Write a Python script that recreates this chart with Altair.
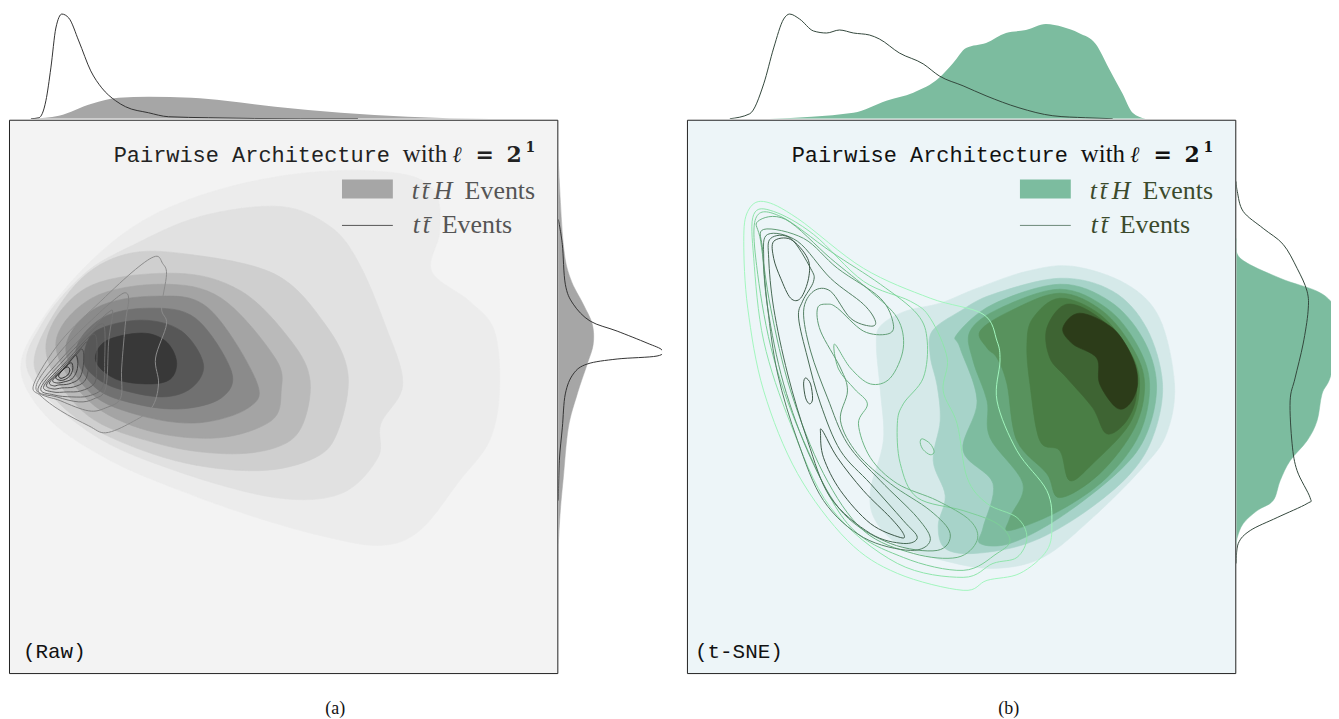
import altair as alt
import pandas as pd

# ---------------- data (plot-area units: x 0..550 left→right, y 0..555 top→bottom) -------------
# Panel (a) Raw: ttH filled density levels, outer -> inner
RAW_TTH_LEVELS = [
    [(12,252),(32,202),(82,142),(142,97),(222,67),(312,52),(392,54),(427,72),(432,112),(424,152),(462,182),(487,212),(492,272),(482,322),(452,362),(412,412),(372,427),(312,417),(242,397),(172,372),(102,342),(42,302)],
    [(20,255),(33,205),(75,155),(122,127),(192,97),(272,87),(322,107),(350,142),(377,205),(395,265),(373,305),(370,339),(333,375),(267,379),(167,352),(83,315)],
    [(27,232),(67,165),(117,135),(180,135),(267,155),(317,205),(340,255),(330,312),(307,339),(250,352),(167,342),(83,309),(37,269)],
    [(37,229),(77,169),(167,154),(233,172),(283,222),(302,262),(293,309),(267,329),(217,335),(150,325),(77,295)],
    [(47,225),(83,179),(153,165),(213,179),(267,239),(273,272),(263,302),(210,319),(140,312),(80,282)],
    [(57,229),(87,189),(147,177),(200,189),(248,262),(240,289),(190,304),(133,297),(83,275)],
    [(67,232),(93,199),(140,189),(187,199),(223,252),(213,279),(173,290),(127,285),(87,269)],
    [(75,239),(87,212),(133,201),(173,212),(195,245),(183,269),(153,278),(107,269),(83,255)],
    [(87,242),(97,222),(133,214),(157,222),(168,242),(162,260),(140,265),(107,260)],
]
RAW_TTH_COLORS = ["#ececec", "#e1e1e1", "#cfcfcf", "#bababa", "#a4a4a4", "#8b8b8b", "#717171", "#575757", "#383838"]

# Panel (a) Raw: tt line density levels, outer -> inner
RAW_TT_LEVELS = [
    [(25,265),(52,222),(92,182),(127,150),(147,137),(154,144),(158,155),(153,189),(158,205),(147,239),(150,265),(143,289),(122,304),(97,314),(80,307),(52,292),(32,277)],
    [(27,269),(52,232),(87,197),(110,177),(118,174),(120,182),(117,202),(113,249),(112,279),(97,289),(80,292),(52,282)],
    [(29,270),(55,237),(85,207),(100,193),(104,194),(100,222),(97,269),(85,280),(70,283),(48,278)],
    [(32,269),(55,241),(80,215),(92,205),(96,210),(96,240),(94,268),(80,277),(63,278),(45,276)],
    [(35,267),(57,243),(76,222),(85,215),(88,222),(88,245),(86,264),(72,272),(58,273),(44,273)],
    [(38,265),(56,246),(72,229),(78,223),(81,230),(80,248),(76,262),(65,268),(53,269),(44,270)],
    [(41,263),(56,248),(68,235),(73,230),(75,236),(74,250),(70,260),(60,265),(50,266),(45,267)],
    [(44,261),(55,250),(63,240),(67,236),(69,242),(68,252),(63,260),(55,263),(48,264)],
    [(47,258),(55,250),(60,245),(63,244),(64,250),(61,257),(55,261),(50,261)],
    [(50,256),(55,250),(59,248),(61,251),(59,256),(54,259),(51,259)],
]
RAW_TT_COLORS = ["#8c8c8c", "#828282", "#777777", "#6c6c6c", "#616161", "#565656", "#4b4b4b",
                 "#404040", "#353535", "#2a2a2a"]

# Panel (b) t-SNE: ttH filled density levels, outer -> inner
TSNE_TTH_LEVELS = [
    [(194,207),(219,192),(254,184),(291,169),(341,152),(387,147),(441,165),(474,199),(489,265),(481,315),(457,349),(407,399),(357,439),(307,450),(257,442),(214,427),(189,402),(184,372),(197,322),(194,272),(190,227)],
    [(246,212),(274,192),(307,175),(374,159),(427,172),(461,209),(477,265),(467,319),(441,359),(391,399),(341,425),(289,435),(259,430),(252,407),(259,377),(247,342),(254,302),(251,267),(244,237)],
    [(271,215),(307,185),(374,165),(424,182),(457,219),(471,265),(461,315),(434,352),(374,399),(324,425),(294,425),(297,409),(307,365),(277,332),(291,282),(274,229)],
    [(284,212),(314,189),(374,170),(421,189),(451,225),(464,265),(454,315),(421,359),(374,392),(324,412),(324,399),(337,365),(304,319),(301,282),(287,242)],
    [(294,212),(324,192),(374,174),(417,192),(447,229),(459,265),(449,309),(414,355),(374,379),(361,355),(331,322),(321,265),(311,239),(301,229)],
    [(347,199),(374,179),(414,195),(444,232),(454,265),(444,305),(407,345),(384,362),(374,332),(354,322),(344,265),(341,225)],
    [(361,209),(381,185),(414,199),(441,232),(451,272),(441,302),(421,315),(407,289),(381,259),(364,239)],
    [(377,209),(394,194),(427,209),(447,239),(452,265),(444,285),(431,289),(414,265),(411,239),(387,225)],
]
TSNE_TTH_COLORS = ["#d5e9e9", "#a7d3c9", "#7ebca0", "#67a77c", "#58925d", "#4a7e45", "#3e6433", "#2c3c19"]

# Panel (b) t-SNE: tt line density levels, outer -> inner
TSNE_TT_LEVELS = [
    [(61,92),(77,82),(111,99),(177,149),(244,179),(297,195),(311,222),(314,242),(311,282),(331,332),(361,372),(366,405),(361,432),(334,455),(301,462),(277,472),(211,455),(161,422),(111,355),(77,272),(61,189),(57,122)],
    [(67,95),(87,92),(127,115),(177,162),(224,182),(244,199),(261,239),(257,272),(271,305),(281,359),(301,385),(331,399),(341,419),(331,439),(307,445),(277,459),(211,445),(144,389),(104,305),(77,222),(67,139)],
    [(69,99),(94,97),(144,132),(194,165),(231,195),(241,222),(237,259),(217,285),(211,305),(214,345),(231,379),(277,392),(311,405),(324,422),(311,435),(277,452),(217,439),(161,405),(117,322),(87,239),(71,155)],
    [(71,102),(99,100),(144,139),(184,172),(211,199),(217,229),(204,259),(184,265),(164,249),(148,225),(152,250),(168,270),(181,285),(172,305),(184,339),(211,365),(251,382),(284,402),(291,422),(271,439),(227,435),(177,412),(137,355),(104,272),(84,189),(74,122)],
    [(77,110),(117,119),(151,149),(194,179),(207,205),(201,215),(177,212),(151,189),(141,185),(131,189),(134,212),(154,249),(161,272),(154,302),(171,335),(204,365),(244,392),(264,415),(251,432),(204,425),(157,395),(124,339),(97,265),(81,189),(76,132)],
    [(81,115),(111,122),(144,159),(177,185),(189,202),(184,207),(164,199),(144,172),(127,172),(117,192),(124,232),(141,279),(161,325),(194,362),(231,399),(244,422),(224,432),(177,419),(137,382),(111,322),(91,255),(81,189),(77,139)],
    [(84,119),(104,119),(124,149),(127,162),(116,182),(112,199),(121,239),(134,285),(154,332),(184,365),(217,402),(231,419),(217,425),(184,415),(144,379),(121,322),(101,255),(87,189),(82,139)],
    [(87,122),(104,120),(121,139),(122,159),(114,179),(104,179),(94,159),(87,139)],
    [(136,312),(151,339),(177,372),(204,399),(217,415),(214,419),(184,405),(154,372),(137,339),(134,315)],
    [(119,259),(124,265),(126,280),(123,285),(119,279),(117,265)],
    [(236,320),(244,325),(248,333),(244,336),(237,331),(234,324)],
]
TSNE_TT_COLORS = ["#a2f6be", "#8fe5ab", "#7ccf98", "#6cb585", "#609c74", "#537f63", "#476b55",
                  "#3b5646", "#3b5646", "#3b5646", "#74c08e"]

# Marginals: top (x position, height), right (y position, width)
RAW_TOP_TTH_X = [23, 50, 83, 110, 140, 183, 217, 267, 333, 400, 483, 513]
RAW_TOP_TTH_H = [0, 3, 15, 21, 22, 21, 18, 12, 6, 2, 0, 0]
RAW_TOP_TT_X = [22, 30, 37, 42, 47, 53, 60, 70, 82, 93, 107, 117, 140, 160, 200, 292, 350]
RAW_TOP_TT_H = [0, 1, 18, 51, 91, 105, 101, 78, 48, 31, 18, 12, 6, 2, 1, 0, 0]
RAW_RIGHT_TTH_Y = [42, 125, 159, 185, 205, 225, 245, 275, 309, 359, 392, 425]
RAW_RIGHT_TTH_W = [0, 5, 12, 25, 34, 35, 29, 19, 10, 5, 2, 0]
RAW_RIGHT_TT_Y = [100, 125, 165, 185, 202, 212, 224, 231, 237, 240, 245, 255, 275, 309, 342, 382]
RAW_RIGHT_TT_W = [0, 4, 7, 15, 32, 59, 89, 104, 99, 59, 29, 15, 7, 4, 1, 0]

TSNE_TOP_TT_X = [43, 63, 77, 87, 97, 103, 113, 127, 140, 153, 167, 183, 193, 213, 237, 253, 277, 300, 333, 367, 400, 427]
TSNE_TOP_TT_H = [0, 5, 35, 71, 100, 105, 100, 88, 86, 89, 86, 84, 80, 66, 55, 43, 33, 23, 11, 3, 1, 0]
TSNE_TOP_TTH_X = [83, 167, 200, 227, 253, 267, 280, 300, 320, 340, 360, 377, 393, 410, 423, 437, 447, 460]
TSNE_TOP_TTH_H = [0, 6, 18, 26, 41, 56, 71, 76, 86, 89, 95, 92, 86, 75, 51, 25, 6, 0]
TSNE_RIGHT_TT_Y = [62, 72, 92, 109, 125, 149, 172, 192, 225, 259, 282, 325, 352, 379, 385, 399, 412, 425, 445]
TSNE_RIGHT_TT_W = [0, 1, 7, 27, 47, 61, 71, 72, 67, 59, 54, 56, 61, 74, 71, 41, 14, 2, 0]
TSNE_RIGHT_TTH_Y = [119, 139, 159, 172, 185, 202, 225, 259, 275, 302, 322, 342, 362, 382, 392, 405, 419, 427]
TSNE_RIGHT_TTH_W = [0, 4, 44, 81, 97, 103, 102, 94, 86, 81, 71, 54, 44, 37, 21, 7, 1, 0]

# ---------------- chart ----------------
W, H, TOP_H = 550, 555, 110
XS = alt.Scale(domain=[0, 550], nice=False, zero=False)
YS = alt.Scale(domain=[0, 555], nice=False, zero=False, reverse=True)
SERIF = "Liberation Serif"
MONO = "Liberation Mono"


def poly_df(points):
    return pd.DataFrame({"x": [p[0] for p in points], "y": [p[1] for p in points],
                         "i": list(range(len(points)))})


def enc(ch):
    return ch.encode(x=alt.X("x:Q", scale=XS, axis=None), y=alt.Y("y:Q", scale=YS, axis=None),
                     order="i:Q")


def filled(points, color):
    return enc(alt.Chart(poly_df(points)).mark_line(
        interpolate="cardinal-closed", fill=color, stroke=color, strokeWidth=0.6, clip=True))


def contour(points, color):
    return enc(alt.Chart(poly_df(points)).mark_line(
        interpolate="cardinal-closed", stroke=color, strokeWidth=1.0, clip=True))


def label(text, x, y, font, size, color, style="normal", weight="normal"):
    return alt.Chart(pd.DataFrame({"t": [text]})).mark_text(
        align="left", baseline="alphabetic", font=font, fontSize=size, color=color,
        fontStyle=style, fontWeight=weight).encode(x=alt.value(x), y=alt.value(y), text="t:N")


def legend_layers(patch, line, txt, title_col):
    one = pd.DataFrame({"k": [0]})
    return [
        label("Pairwise Architecture", 105, 42, MONO, 22, title_col),
        label("with", 395, 42, SERIF, 25, title_col),
        label("\u2113", 445, 42, "DejaVu Serif", 22, title_col, style="italic", weight="bold"),
        label("=", 468, 42, "DejaVu Serif", 22, title_col, weight="bold"),
        label("2", 499, 42, "DejaVu Serif", 22, title_col, weight="bold"),
        label("1", 518, 32, "DejaVu Serif", 14, title_col, weight="bold"),
        alt.Chart(one).mark_rect(color=patch).encode(
            x=alt.value(334), x2=alt.value(385), y=alt.value(60), y2=alt.value(79)),
        label("t", 404, 80, SERIF, 26, txt, style="italic"),
        label("t\u0304", 414, 80, SERIF, 26, txt, style="italic"),
        label("H", 426, 80, SERIF, 26, txt, style="italic"),
        label("Events", 457, 80, SERIF, 26, txt),
        alt.Chart(one).mark_rule(color=line, strokeWidth=1).encode(
            x=alt.value(334), x2=alt.value(385), y=alt.value(106)),
        label("t", 405, 114, SERIF, 26, txt, style="italic"),
        label("t\u0304", 415, 114, SERIF, 26, txt, style="italic"),
        label("Events", 434, 114, SERIF, 26, txt),
    ]


def main_panel(tth_levels, tth_colors, tt_levels, tt_colors, bg, patch, line, txt, title_col, tag, tag_x):
    layers = [filled(p, c) for p, c in zip(tth_levels, tth_colors)]
    layers += [contour(p, c) for p, c in zip(tt_levels, tt_colors)]
    layers += legend_layers(patch, line, txt, title_col)
    layers.append(label(tag, tag_x, 540, MONO, 21, "#111"))
    return alt.layer(*layers).properties(
        width=W, height=H, view=alt.ViewBackground(fill=bg, stroke="#222222", strokeWidth=1))


def top_panel(tth_x, tth_h, tt_x, tt_h, fill_col, line_col):
    a = pd.DataFrame({"x": tth_x, "h": tth_h})
    b = pd.DataFrame({"x": tt_x, "h": tt_h})
    hs = alt.Scale(domain=[0, TOP_H], nice=False)
    return alt.layer(
        alt.Chart(a).mark_area(color=fill_col, opacity=1, interpolate="monotone", clip=True).encode(
            x=alt.X("x:Q", scale=XS, axis=None), y=alt.Y("h:Q", scale=hs, axis=None)),
        alt.Chart(b).mark_line(color=line_col, strokeWidth=1, interpolate="monotone", clip=True).encode(
            x=alt.X("x:Q", scale=XS, axis=None), y=alt.Y("h:Q", scale=hs, axis=None)),
    ).properties(width=W, height=TOP_H, view=alt.ViewBackground(strokeWidth=0))


def right_panel(tth_y, tth_w, tt_y, tt_w, fill_col, line_col, width):
    a = pd.DataFrame({"y": tth_y, "w": tth_w, "i": list(range(len(tth_y)))})
    b = pd.DataFrame({"y": tt_y, "w": tt_w, "i": list(range(len(tt_y)))})
    ws = alt.Scale(domain=[0, width], nice=False)
    return alt.layer(
        # filled density: a path whose two ends sit on the baseline, closed by its fill
        alt.Chart(a).mark_line(fill=fill_col, stroke=fill_col, strokeWidth=0.5, interpolate="cardinal",
                               clip=True).encode(
            x=alt.X("w:Q", scale=ws, axis=None), y=alt.Y("y:Q", scale=YS, axis=None), order="i:Q"),
        alt.Chart(b).mark_line(color=line_col, strokeWidth=1, interpolate="cardinal", clip=True).encode(
            x=alt.X("w:Q", scale=ws, axis=None), y=alt.Y("y:Q", scale=YS, axis=None), order="i:Q"),
    ).properties(width=width, height=H, view=alt.ViewBackground(strokeWidth=0))


def panel(main, top, right, caption):
    return alt.vconcat(
        top, alt.hconcat(main, right, spacing=0).resolve_scale(x="independent", y="independent"),
        spacing=0,
        title=alt.TitleParams(caption, orient="bottom", anchor="middle", font=SERIF, fontSize=18,
                              fontWeight="normal", color="#111", offset=27),
    ).resolve_scale(x="independent", y="independent")


main_a = main_panel(RAW_TTH_LEVELS, RAW_TTH_COLORS, RAW_TT_LEVELS, RAW_TT_COLORS,
                    "#f3f3f3", "#a6a6a6", "#555555", "#555555", "#222222", "(Raw)", 14)
top_a = top_panel(RAW_TOP_TTH_X, RAW_TOP_TTH_H, RAW_TOP_TT_X, RAW_TOP_TT_H, "#a6a6a6", "#333333")
right_a = right_panel(RAW_RIGHT_TTH_Y, RAW_RIGHT_TTH_W, RAW_RIGHT_TT_Y, RAW_RIGHT_TT_W,
                      "#a6a6a6", "#333333", 104)

main_b = main_panel(TSNE_TTH_LEVELS, TSNE_TTH_COLORS, TSNE_TT_LEVELS, TSNE_TT_COLORS,
                    "#edf5f8", "#7cbc9f", "#6b8a78", "#3b4a2c", "#111111", "(t-SNE)", 8)
top_b = top_panel(TSNE_TOP_TTH_X, TSNE_TOP_TTH_H, TSNE_TOP_TT_X, TSNE_TOP_TT_H, "#7cbc9f", "#33473c")
right_b = right_panel(TSNE_RIGHT_TTH_Y, TSNE_RIGHT_TTH_W, TSNE_RIGHT_TT_Y, TSNE_RIGHT_TT_W,
                      "#7cbc9f", "#33473c", 95)

chart = alt.hconcat(
    panel(main_a, top_a, right_a, "(a)"),
    panel(main_b, top_b, right_b, "(b)"),
    spacing=24,
).resolve_scale(x="independent", y="independent").properties(padding=0).configure_view(strokeWidth=0)

chart.save("out.html", embed_options={"renderer": "svg", "actions": False})
